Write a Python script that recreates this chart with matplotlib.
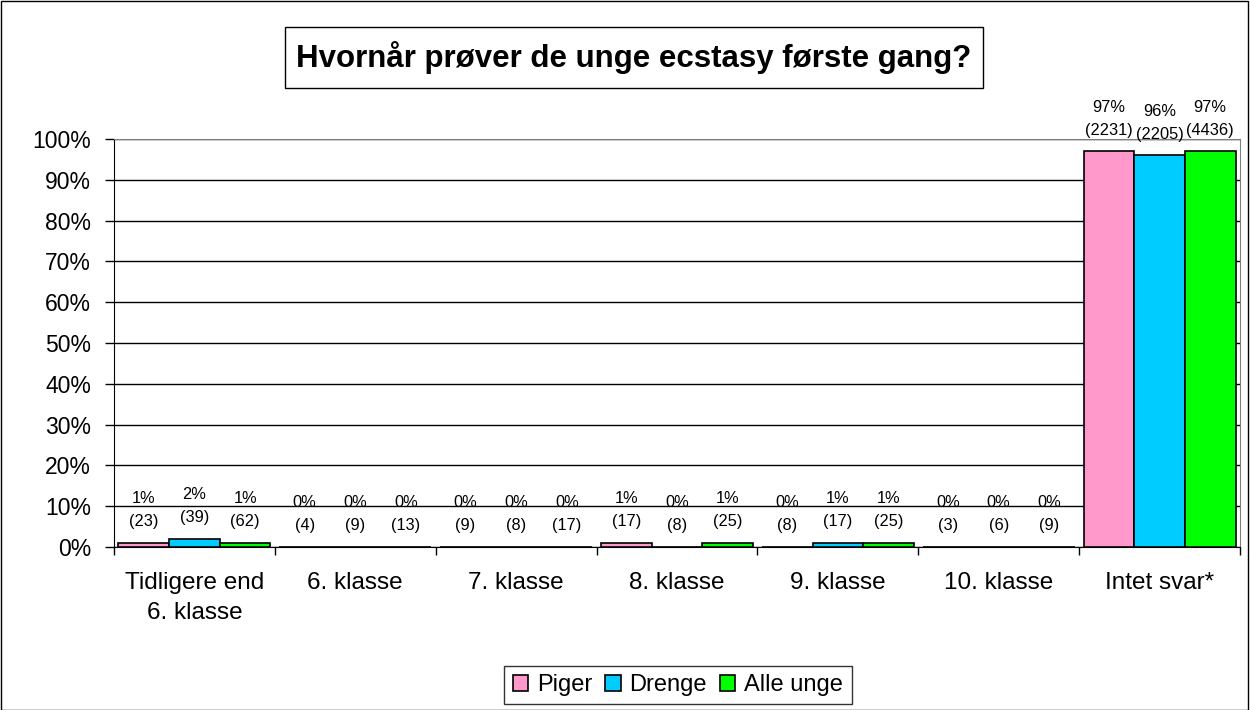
import matplotlib.pyplot as plt
import numpy as np
from matplotlib.patches import Rectangle

plt.rcParams['font.family'] = ['Liberation Sans', 'DejaVu Sans']

categories = ['Tidligere end\n6. klasse', '6. klasse', '7. klasse', '8. klasse',
              '9. klasse', '10. klasse', 'Intet svar*']
series = ['Piger', 'Drenge', 'Alle unge']
colors = ['#FF99CC', '#00CCFF', '#00FF00']

piger_pct = [1, 0, 0, 1, 0, 0, 97]
drenge_pct = [2, 0, 0, 0, 1, 0, 96]
alle_pct = [1, 0, 0, 1, 1, 0, 97]

piger_n = [23, 4, 9, 17, 8, 3, 2231]
drenge_n = [39, 9, 8, 8, 17, 6, 2205]
alle_n = [62, 13, 17, 25, 25, 9, 4436]

pcts = [piger_pct, drenge_pct, alle_pct]
counts = [piger_n, drenge_n, alle_n]

fig = plt.figure(figsize=(12.5, 7.1), dpi=100)
ax = fig.add_axes([0.0912, 0.2296, 0.9008, 0.5746])

x = np.arange(len(categories))
w = 0.315
for i in range(3):
    pos = x + (i - 1) * w
    vals = np.array(pcts[i]) / 100
    ax.bar(pos, vals, w, color=colors[i], edgecolor='black', linewidth=1.2,
           label=series[i], zorder=3)
    # percent and count above each bar
    for px, v, p, n in zip(pos, vals, pcts[i], counts[i]):
        ax.annotate('%d%%' % p, (px, v), xytext=(0, 44), textcoords='offset pixels',
                    ha='center', va='center', fontsize=11.8)
        ax.annotate('(%d)' % n, (px, v), xytext=(0, 21), textcoords='offset pixels',
                    ha='center', va='center', fontsize=11.8)

ax.set_xlim(-0.5, len(categories) - 0.5)
ax.set_ylim(0, 1)
ax.set_yticks(np.arange(0, 1.01, 0.1))
ax.set_yticklabels(['%d%%' % v for v in range(0, 101, 10)], fontsize=16.5)
ax.yaxis.grid(True, color='black', linewidth=1)
ax.set_axisbelow(True)

ax.set_xticks(x)
ax.set_xticklabels(categories, fontsize=17.5, linespacing=1.45)
ax.set_xticks(np.arange(-0.5, len(categories), 1), minor=True)
ax.tick_params(axis='x', which='major', length=0, pad=18)
ax.tick_params(axis='x', which='minor', length=6, width=1)
ax.tick_params(axis='y', length=6.5, width=1, pad=10)

for s in ['top', 'right']:
    ax.spines[s].set_color('#808080')
for s in ['left', 'bottom']:
    ax.spines[s].set_color('black')

# title in its own box
fig.add_artist(Rectangle((0.228, 0.876), 0.5584, 0.0859, transform=fig.transFigure,
                         facecolor='white', edgecolor='black', linewidth=1))
fig.text(0.5072, 0.919, 'Hvornår prøver de unge ecstasy første gang?', ha='center',
         va='center', fontsize=22.5, fontweight='bold')

leg = fig.legend(loc='center', bbox_to_anchor=(0.5424, 0.0353), ncol=3, fontsize=17,
                 frameon=True, fancybox=False, edgecolor='black', handlelength=0.65,
                 handleheight=0.65, handletextpad=0.38, columnspacing=0.55, borderpad=0.35)
leg.get_frame().set_linewidth(1)

fig.add_artist(Rectangle((0.0008, 0.0), 0.9976, 0.9985, transform=fig.transFigure,
                         fill=False, edgecolor='black', linewidth=1))

fig.savefig('out.png', dpi=100)
